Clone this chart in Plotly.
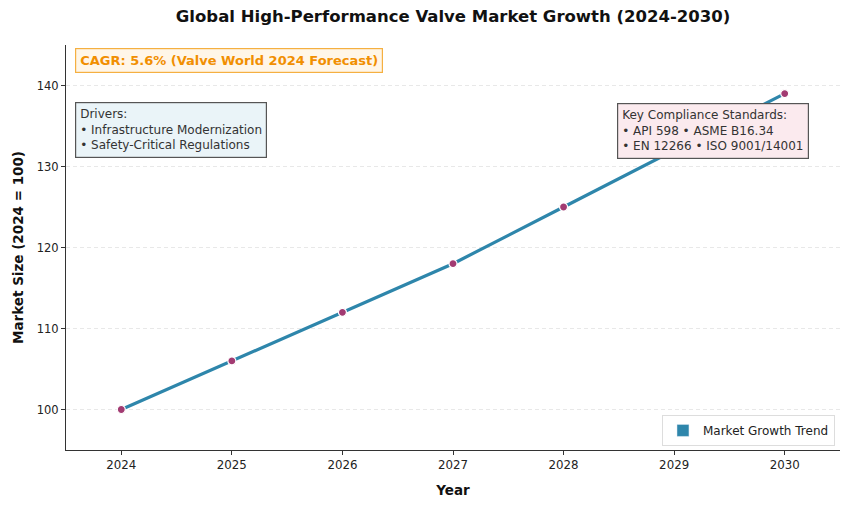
import plotly.graph_objects as go

years = [2024, 2025, 2026, 2027, 2028, 2029, 2030]
market_size = [100, 106, 112, 118, 125, 132, 139]
series_name = "Market Growth Trend"
title = "Global High-Performance Valve Market Growth (2024-2030)"
cagr_text = "CAGR: 5.6% (Valve World 2024 Forecast)"
drivers_text = "Drivers:<br>• Infrastructure Modernization<br>• Safety-Critical Regulations"
standards_text = "Key Compliance Standards:<br>• API 598 • ASME B16.34<br>• EN 12266 • ISO 9001/14001"

LINE = "#2E86AB"
MARK = "#A23B72"
FONT = "DejaVu Sans"

fig = go.Figure()
fig.add_trace(go.Scatter(
    x=years, y=market_size, mode="lines+markers", name=series_name,
    line=dict(color=LINE, width=3.2),
    marker=dict(color=MARK, size=8, line=dict(color="white", width=1.2)),
    showlegend=False,
))
fig.add_trace(go.Bar(x=[None], y=[None], name=series_name, marker_color=LINE, showlegend=True))

fig.update_layout(
    width=850, height=505,
    margin=dict(l=66, r=10, t=45, b=55),
    paper_bgcolor="white", plot_bgcolor="white",
    font=dict(family=FONT, size=12, color="#222"),
    title=dict(text="<b>" + title + "</b>", x=0.533, xanchor="center", y=0.968, yanchor="middle",
               font=dict(family=FONT, size=16.5, color="#111")),
    xaxis=dict(range=[2023.5, 2030.5], tickmode="array", tickvals=years, ticktext=[str(y) for y in years],
               showgrid=False, zeroline=False, showline=True, linecolor="#333", linewidth=1.2,
               ticks="outside", ticklen=4, tickcolor="#333", tickfont=dict(size=11.8),
               title=dict(text="<b>Year</b>", font=dict(family=FONT, size=13.5, color="#111"), standoff=14)),
    yaxis=dict(range=[95, 145], tickmode="array", tickvals=[100, 110, 120, 130, 140],
               showgrid=True, gridcolor="#e8e8e8", griddash="4px,3px", gridwidth=1, zeroline=False,
               showline=True, linecolor="#333", linewidth=1.2,
               ticks="outside", ticklen=4, tickcolor="#333", tickfont=dict(size=11.5),
               title=dict(text="<b>Market Size (2024 = 100)</b>", font=dict(family=FONT, size=13.5, color="#111"), standoff=9)),
    legend=dict(x=0.9935, y=0.01, xanchor="right", yanchor="bottom", bgcolor="white",
                bordercolor="#dddddd", borderwidth=1, font=dict(family=FONT, size=12, color="#222")),
    showlegend=True,
    annotations=[
        dict(text="<b>" + cagr_text + "</b>", xref="paper", yref="paper", x=0.0116, y=0.993,
             xanchor="left", yanchor="top", showarrow=False, align="left",
             font=dict(family=FONT, size=13, color="#F18F01"),
             bgcolor="#FFF6E8", bordercolor="#F5B041", borderwidth=1.2, borderpad=4),
        dict(text=drivers_text, xref="paper", yref="paper", x=0.0116, y=0.859,
             xanchor="left", yanchor="top", showarrow=False, align="left",
             font=dict(family=FONT, size=12, color="#333"),
             bgcolor="#EAF4F8", bordercolor="#555", borderwidth=1.2, borderpad=4),
        dict(text=standards_text, xref="paper", yref="paper", x=0.712, y=0.857,
             xanchor="left", yanchor="top", showarrow=False, align="left",
             font=dict(family=FONT, size=12, color="#333"),
             bgcolor="#FBEAEE", bordercolor="#555", borderwidth=1.2, borderpad=4),
    ],
)

fig.write_html("out.html")
